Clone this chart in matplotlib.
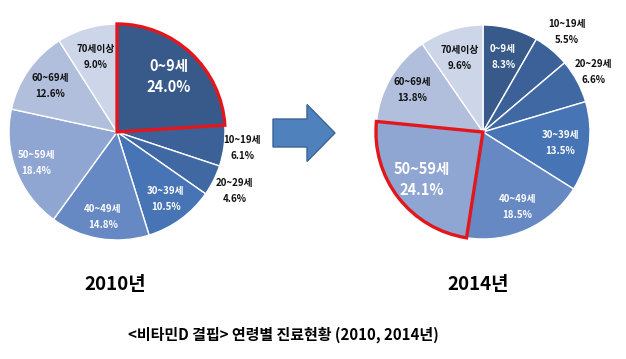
import numpy as np
import matplotlib
matplotlib.use("Agg")
import matplotlib.pyplot as plt
from matplotlib.patches import FancyArrow

plt.rcParams['font.family'] = ['Noto Sans CJK KR', 'DejaVu Sans']

# data
ages = ['0~9세', '10~19세', '20~29세', '30~39세', '40~49세', '50~59세', '60~69세', '70세이상']
share_2010 = [24.0, 6.1, 4.6, 10.5, 14.8, 18.4, 12.6, 9.0]
share_2014 = [8.3, 5.5, 6.6, 13.5, 18.5, 24.1, 13.8, 9.6]
years = ['2010년', '2014년']
caption = '<비타민D 결핍> 연령별 진료현황 (2010, 2014년)'

colors = ['#385a8b', '#3c6199', '#4068a3', '#4674b5', '#6689c4',
          '#8fa6d2', '#b1bfdd', '#cdd5e8']

W, H = 626, 359
fig = plt.figure(figsize=(W / 100, H / 100), dpi=100)
ax = fig.add_axes([0, 0, 1, 1])


def draw_pie(vals, center, radius, hi, expl, rfrac, dark_text):
    explode = [expl if i == hi else 0 for i in range(len(vals))]
    wedges, _ = ax.pie(vals, colors=colors, startangle=90, counterclock=False,
                       center=center, radius=radius, explode=explode,
                       wedgeprops=dict(edgecolor='white', linewidth=1.0),
                       frame=True)
    hw = wedges[hi]
    hw.set_edgecolor('#e3161c')
    hw.set_linewidth(2.4)
    hw.set_zorder(5)
    for i, w in enumerate(wedges):
        mid = np.deg2rad((w.theta1 + w.theta2) / 2)
        cx, cy = w.center
        r = rfrac[i] * radius
        x = cx + r * np.cos(mid)
        y = cy + r * np.sin(mid)
        col = '#111111' if i in dark_text else 'white'
        if i == hi:
            fs, gap = 10.5, 21
        else:
            fs, gap = 7, 16
        ax.text(x, y + gap / 2, ages[i], ha='center', va='center',
                fontsize=fs, fontweight='bold', color=col, zorder=6)
        ax.text(x, y - gap / 2, f'{vals[i]:.1f}%', ha='center', va='center',
                fontsize=fs, fontweight='bold', color=col, zorder=6)


draw_pie(share_2010, (117, H - 132), 108, 0, 0.05,
         [0.70, 1.17, 1.22, 0.77, 0.80, 0.80, 0.75, 0.72], {1, 2, 6, 7})
draw_pie(share_2014, (483, H - 132), 107, 5, 0.07,
         [0.73, 1.22, 1.17, 0.73, 0.77, 0.72, 0.77, 0.72], {1, 2, 6, 7})

ax.set_xlim(0, W)
ax.set_ylim(0, H)
ax.set_aspect('auto')
ax.axis('off')

ax.add_patch(FancyArrow(273, H - 133, 62, 0, width=28, head_width=57,
                        head_length=28, length_includes_head=True,
                        facecolor='#4f81bd', edgecolor='#3b6497', linewidth=1.0))

ax.text(115, H - 285, years[0], ha='center', va='center', fontsize=13.5,
        fontweight='bold', color='black')
ax.text(478, H - 285, years[1], ha='center', va='center', fontsize=13.5,
        fontweight='bold', color='black')
ax.text(283, H - 335, caption, ha='center', va='center', fontsize=10.8,
        fontweight='bold', color='black')

fig.savefig('out.png', dpi=100, facecolor='white')
